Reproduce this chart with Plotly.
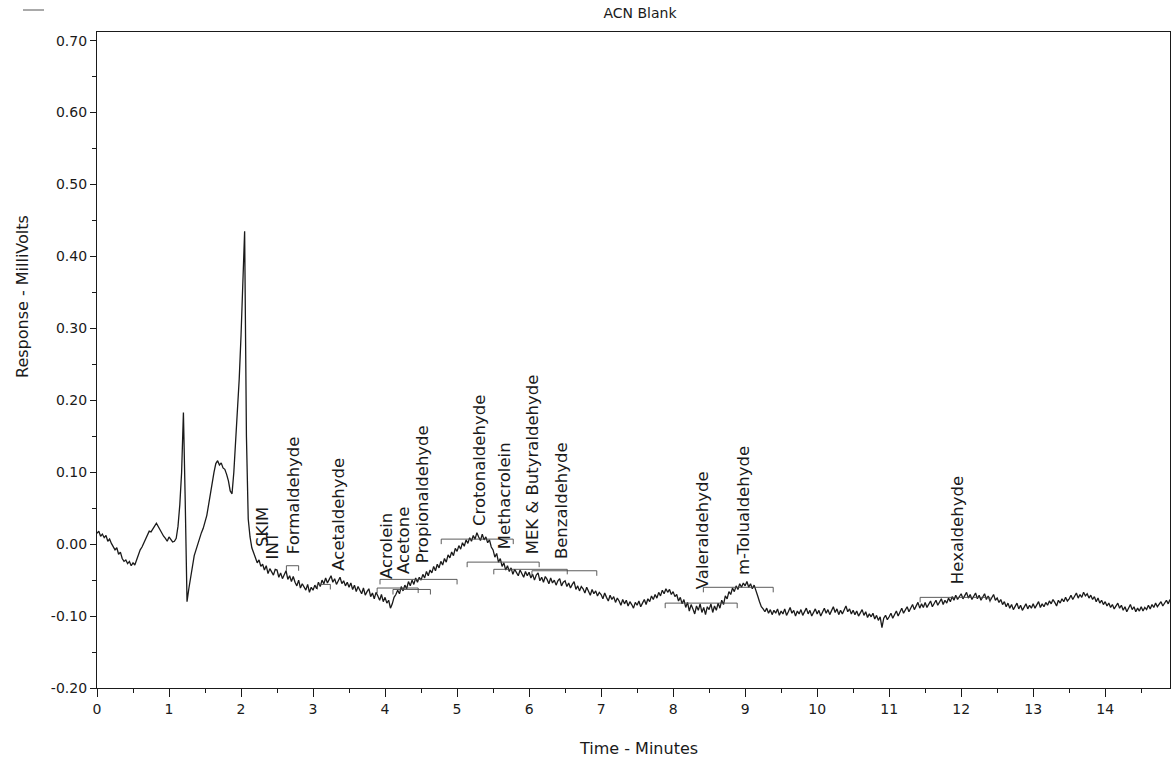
import numpy as np
import plotly.graph_objects as go

# ---------------- data ----------------
# detector signal sampled every 0.025 min from 0.000 to 14.900 (mV), read from the trace
time_start = 0.0
time_step = 0.025
signal = [
    0.015, 0.018, 0.011, 0.014, 0.009, 0.012, 0.004, 0.007, 0.001, -0.003, -0.008, -0.005, -0.014, -0.011, -0.020, -0.024, -0.022, -0.027, -0.024, -0.030,
    -0.026, -0.029, -0.021, -0.016, -0.008, -0.004, 0.002, 0.007, 0.014, 0.018, 0.017, 0.022, 0.025, 0.029, 0.024, 0.020, 0.016, 0.011, 0.008, 0.004,
    0.010, 0.006, 0.003, 0.004, 0.008, 0.025, 0.055, 0.100, 0.183, 0.060, -0.080, -0.062, -0.045, -0.030, -0.016, -0.008, 0.001, 0.008, 0.016, 0.022,
    0.030, 0.040, 0.055, 0.072, 0.088, 0.100, 0.112, 0.116, 0.110, 0.113, 0.106, 0.104, 0.097, 0.088, 0.074, 0.070, 0.100, 0.140, 0.180, 0.230,
    0.290, 0.360, 0.435, 0.150, 0.035, 0.010, -0.005, -0.012, -0.018, -0.026, -0.022, -0.031, -0.028, -0.036, -0.030, -0.041, -0.034, -0.038, -0.043, -0.035,
    -0.036, -0.046, -0.040, -0.048, -0.043, -0.037, -0.049, -0.044, -0.052, -0.045, -0.053, -0.058, -0.050, -0.061, -0.055, -0.059, -0.064, -0.056, -0.067, -0.060,
    -0.064, -0.057, -0.062, -0.053, -0.059, -0.050, -0.055, -0.047, -0.054, -0.049, -0.044, -0.053, -0.048, -0.056, -0.050, -0.046, -0.055, -0.051, -0.058, -0.053,
    -0.060, -0.054, -0.063, -0.057, -0.066, -0.059, -0.064, -0.069, -0.061, -0.071, -0.066, -0.062, -0.073, -0.068, -0.076, -0.067, -0.072, -0.078, -0.070, -0.080,
    -0.074, -0.082, -0.078, -0.089, -0.083, -0.074, -0.070, -0.064, -0.069, -0.059, -0.065, -0.057, -0.062, -0.052, -0.058, -0.050, -0.056, -0.047, -0.053, -0.046,
    -0.050, -0.042, -0.047, -0.038, -0.044, -0.036, -0.040, -0.031, -0.037, -0.028, -0.033, -0.024, -0.029, -0.020, -0.025, -0.015, -0.019, -0.011, -0.016, -0.006,
    -0.010, -0.002, -0.007, 0.002, -0.003, 0.006, 0.001, 0.009, 0.004, 0.012, 0.007, 0.016, 0.010, 0.005, 0.014, 0.006, 0.010, 0.002, 0.006, -0.004,
    -0.008, -0.018, -0.013, -0.025, -0.020, -0.031, -0.026, -0.036, -0.030, -0.038, -0.033, -0.042, -0.035, -0.039, -0.044, -0.036, -0.041, -0.046, -0.038, -0.044,
    -0.039, -0.047, -0.042, -0.050, -0.043, -0.040, -0.051, -0.046, -0.053, -0.045, -0.049, -0.055, -0.047, -0.054, -0.050, -0.057, -0.051, -0.048, -0.058, -0.053,
    -0.051, -0.059, -0.054, -0.061, -0.056, -0.052, -0.063, -0.058, -0.065, -0.059, -0.062, -0.068, -0.060, -0.066, -0.071, -0.063, -0.069, -0.065, -0.072, -0.067,
    -0.070, -0.076, -0.068, -0.074, -0.079, -0.071, -0.077, -0.073, -0.081, -0.075, -0.079, -0.085, -0.077, -0.083, -0.078, -0.086, -0.080, -0.084, -0.089, -0.081,
    -0.085, -0.079, -0.087, -0.082, -0.077, -0.084, -0.076, -0.080, -0.072, -0.077, -0.070, -0.075, -0.067, -0.072, -0.064, -0.069, -0.062, -0.067, -0.063, -0.070,
    -0.066, -0.073, -0.070, -0.079, -0.074, -0.083, -0.077, -0.088, -0.081, -0.093, -0.084, -0.090, -0.097, -0.086, -0.092, -0.083, -0.095, -0.088, -0.098, -0.087,
    -0.091, -0.083, -0.095, -0.086, -0.092, -0.082, -0.089, -0.078, -0.084, -0.072, -0.076, -0.066, -0.070, -0.061, -0.066, -0.058, -0.063, -0.055, -0.060, -0.054,
    -0.058, -0.052, -0.060, -0.055, -0.062, -0.057, -0.066, -0.072, -0.080, -0.087, -0.090, -0.094, -0.089, -0.096, -0.091, -0.098, -0.092, -0.096, -0.090, -0.099,
    -0.093, -0.097, -0.090, -0.099, -0.094, -0.088, -0.096, -0.092, -0.100, -0.093, -0.097, -0.091, -0.099, -0.094, -0.089, -0.097, -0.092, -0.100, -0.095, -0.090,
    -0.097, -0.092, -0.100, -0.094, -0.089, -0.096, -0.091, -0.098, -0.093, -0.087, -0.095, -0.090, -0.098, -0.092, -0.097, -0.091, -0.086, -0.094, -0.090, -0.097,
    -0.092, -0.098, -0.093, -0.100, -0.095, -0.091, -0.099, -0.094, -0.102, -0.097, -0.101, -0.096, -0.104, -0.099, -0.106, -0.101, -0.116, -0.103, -0.099, -0.105,
    -0.101, -0.096, -0.103, -0.097, -0.093, -0.100, -0.094, -0.089, -0.096, -0.091, -0.087, -0.094, -0.088, -0.084, -0.091, -0.086, -0.081, -0.089, -0.083, -0.088,
    -0.081, -0.088, -0.083, -0.079, -0.087, -0.082, -0.078, -0.085, -0.080, -0.076, -0.084, -0.078, -0.082, -0.075, -0.080, -0.073, -0.078, -0.071, -0.077, -0.072,
    -0.069, -0.076, -0.071, -0.067, -0.075, -0.070, -0.077, -0.072, -0.068, -0.076, -0.071, -0.078, -0.073, -0.069, -0.077, -0.072, -0.079, -0.074, -0.070, -0.078,
    -0.075, -0.081, -0.077, -0.084, -0.080, -0.087, -0.082, -0.089, -0.084, -0.091, -0.086, -0.082, -0.090, -0.085, -0.092, -0.087, -0.083, -0.090, -0.085, -0.089,
    -0.083, -0.089, -0.084, -0.080, -0.088, -0.083, -0.087, -0.081, -0.085, -0.079, -0.083, -0.077, -0.081, -0.086, -0.078, -0.082, -0.076, -0.080, -0.074, -0.079,
    -0.076, -0.071, -0.077, -0.072, -0.068, -0.075, -0.070, -0.074, -0.067, -0.072, -0.069, -0.075, -0.071, -0.077, -0.073, -0.080, -0.075, -0.082, -0.078, -0.084,
    -0.080, -0.086, -0.082, -0.088, -0.084, -0.090, -0.085, -0.082, -0.089, -0.085, -0.092, -0.087, -0.094, -0.088, -0.084, -0.091, -0.087, -0.094, -0.089, -0.093,
    -0.087, -0.093, -0.088, -0.091, -0.085, -0.090, -0.084, -0.088, -0.082, -0.087, -0.083, -0.080, -0.086, -0.081, -0.078, -0.083, -0.077,
]

# peak labels: name, retention time (min), label base level (mV)
peak_names = ["SKIM", "INT", "Formaldehyde", "Acetaldehyde", "Acrolein", "Acetone",
              "Propionaldehyde", "Crotonaldehyde", "Methacrolein", "MEK & Butyraldehyde",
              "Benzaldehyde", "Valeraldehyde", "m-Tolualdehyde", "Hexaldehyde"]
peak_times = [2.29, 2.43, 2.72, 3.35, 4.03, 4.25, 4.52, 5.32, 5.67, 6.04, 6.46, 8.42, 8.97, 11.96]
peak_label_base = [-0.007, -0.024, -0.017, -0.040, -0.051, -0.045, -0.030, 0.022, -0.010,
                   -0.017, -0.024, -0.065, -0.045, -0.058]

# integration baselines: start (min), end (min), level (mV)
base_start = [2.63, 3.06, 3.89, 3.93, 4.11, 4.78, 5.14, 5.51, 6.04, 7.89, 8.42, 11.43]
base_end = [2.80, 3.24, 4.46, 5.00, 4.63, 5.78, 6.14, 6.53, 6.94, 8.89, 9.39, 12.40]
base_level = [-0.030, -0.056, -0.061, -0.049, -0.063, 0.007, -0.025, -0.035, -0.037,
              -0.082, -0.060, -0.074]

x_ticks = list(range(0, 15))
y_ticks = [-0.20, -0.10, 0.00, 0.10, 0.20, 0.30, 0.40, 0.50, 0.60, 0.70]
y_minor = [-0.15, -0.05, 0.05, 0.15, 0.25, 0.35, 0.45, 0.55, 0.65]

# ---------------- figure ----------------
t = np.round(time_start + time_step * np.arange(len(signal)), 3)

FONT = "DejaVu Sans"
INK = "#1a1a1a"

fig = go.Figure()
fig.add_trace(go.Scatter(x=t, y=signal, mode="lines",
                         line=dict(color=INK, width=1.3), hoverinfo="skip", showlegend=False))

# integration baseline brackets
tick_drop = 0.007
bx, by = [], []
for s, e, v in zip(base_start, base_end, base_level):
    bx += [s, s, e, e, None]
    by += [v - tick_drop, v, v, v - tick_drop, None]
fig.add_trace(go.Scatter(x=bx, y=by, mode="lines",
                         line=dict(color="#4a4a4a", width=0.9), hoverinfo="skip", showlegend=False))

for name, pt, pb in zip(peak_names, peak_times, peak_label_base):
    fig.add_annotation(x=pt, y=pb, text=name, textangle=-90, showarrow=False,
                       xanchor="center", yanchor="bottom",
                       font=dict(family=FONT, size=16.5, color=INK))

fig.update_layout(
    width=1175, height=762,
    margin=dict(l=97, r=5, t=32, b=74, autoexpand=False),
    paper_bgcolor="white", plot_bgcolor="white",
    title=dict(text="ACN Blank", x=640 / 1175, xanchor="center", y=1 - 13 / 762, yanchor="middle",
               font=dict(family=FONT, size=14, color=INK)),
    font=dict(family=FONT, color=INK),
)

fig.update_xaxes(range=[0, 14.9], tickmode="array", tickvals=x_ticks,
                 ticktext=[str(v) for v in x_ticks],
                 showline=True, linecolor=INK, linewidth=1.2, mirror=True,
                 ticks="outside", ticklen=8, tickcolor=INK, tickwidth=1,
                 minor=dict(dtick=0.5, ticks="outside", ticklen=4, tickcolor=INK),
                 showgrid=False, zeroline=False,
                 tickfont=dict(family=FONT, size=14, color=INK))
fig.update_yaxes(range=[-0.2, 0.712], tickmode="array", tickvals=y_ticks,
                 ticktext=[f"{v:.2f}" for v in y_ticks],
                 showline=True, linecolor=INK, linewidth=1.2, mirror=True,
                 ticks="outside", ticklen=6, tickcolor=INK, tickwidth=1,
                 minor=dict(tickvals=y_minor, ticks="outside", ticklen=4, tickcolor=INK),
                 showgrid=False, zeroline=False,
                 tickfont=dict(family=FONT, size=14, color=INK))

# axis titles placed as in the printout
fig.add_annotation(xref="paper", yref="paper", x=(638 - 97) / 1073, y=-(748 - 688) / 656,
                   text="Time - Minutes", showarrow=False, xanchor="center", yanchor="middle",
                   font=dict(family=FONT, size=16, color=INK))
fig.add_annotation(xref="paper", yref="paper", x=(22 - 97) / 1073, y=(688 - 297) / 656,
                   text="Response - MilliVolts", textangle=-90, showarrow=False,
                   xanchor="center", yanchor="middle",
                   font=dict(family=FONT, size=16, color=INK))
# small mark in the top-left corner of the printout
fig.add_shape(type="line", xref="paper", yref="paper",
              x0=(23 - 97) / 1073, x1=(44 - 97) / 1073, y0=1 + 22 / 656, y1=1 + 22 / 656,
              line=dict(color="#555", width=1))

# the page body has a default 8px margin; remove it so the figure fills the window exactly
fig.write_html("out.html", config={"displayModeBar": False},
               post_script="document.body.style.margin='0px';")
